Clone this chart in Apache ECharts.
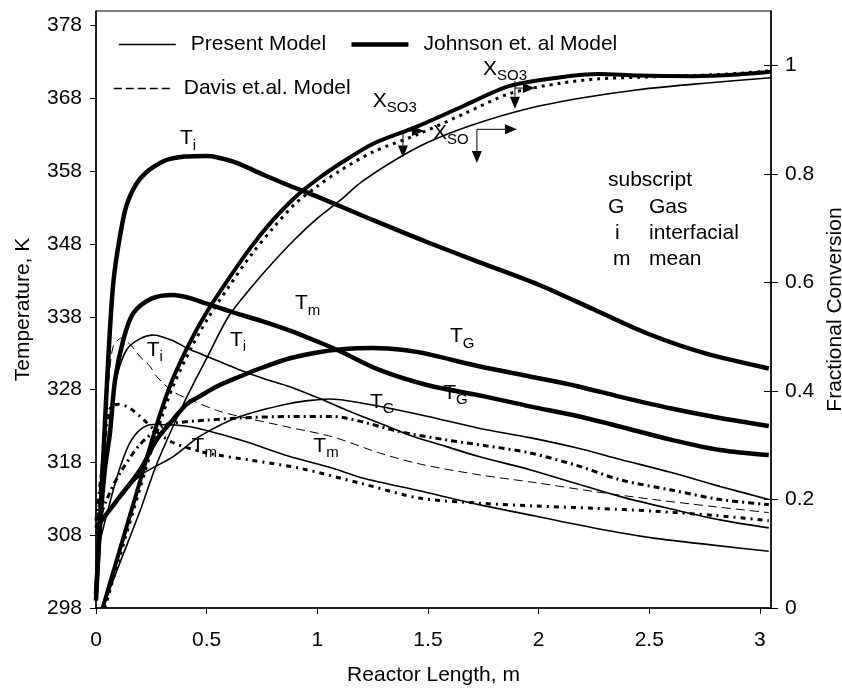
<!DOCTYPE html>
<html><head><meta charset="utf-8">
<script src="https://cdn.jsdelivr.net/npm/echarts@6/dist/echarts.min.js"></script>
<style>html,body{margin:0;padding:0;background:#fff}#c{width:842px;height:689px}</style>
</head><body><div id="c"></div>
<script>
// ---------- tick values ----------
const xTicks = [0, 0.5, 1, 1.5, 2, 2.5, 3];
const tempTicks = [298, 308, 318, 328, 338, 348, 358, 368, 378];
const convTicks = [0, 0.2, 0.4, 0.6, 0.8, 1];

// ---------- fractional conversion (right axis) ----------
const johnsonX = [[0.03,0],[0.1,0.097],[0.2,0.235],[0.25,0.305],[0.3,0.37],[0.35,0.425],[0.425,0.49],[0.5,0.545],[0.6,0.607],[0.7,0.665],[0.8,0.715],[0.9,0.757],[1.0,0.79],[1.1,0.818],[1.25,0.855],[1.45,0.887],[1.66,0.925],[1.87,0.962],[2.1,0.978],[2.27,0.984],[2.45,0.981],[2.7,0.98],[2.9,0.983],[3.05,0.988]];
const davisX = [[0.04,0],[0.1,0.085],[0.2,0.222],[0.25,0.29],[0.3,0.355],[0.35,0.41],[0.425,0.475],[0.5,0.53],[0.6,0.592],[0.7,0.65],[0.8,0.7],[0.9,0.745],[1.0,0.777],[1.1,0.805],[1.25,0.84],[1.45,0.872],[1.66,0.91],[1.87,0.948],[2.1,0.967],[2.27,0.975],[2.45,0.978],[2.7,0.981],[2.9,0.985],[3.05,0.99]];
const presentX = [[0.03,0],[0.1,0.075],[0.2,0.18],[0.274,0.265],[0.4,0.38],[0.5,0.46],[0.6,0.538],[0.7,0.59],[0.8,0.637],[0.9,0.68],[1.0,0.718],[1.1,0.75],[1.2,0.785],[1.35,0.825],[1.5,0.858],[1.7,0.89],[1.95,0.92],[2.2,0.94],[2.45,0.955],[2.75,0.967],[3.05,0.977]];

// ---------- temperatures (left axis) ----------
const johnsonTi = [[0,299],[0.015,308],[0.035,320],[0.055,332],[0.078,342.6],[0.108,349],[0.14,353.5],[0.2,357],[0.3,359.3],[0.4,360],[0.5,360.1],[0.62,359.3],[0.75,357.6],[0.875,356],[1.0,354.5],[1.25,351.3],[1.5,348.2],[1.75,345.3],[2.0,342.4],[2.25,339.0],[2.5,335.6],[2.75,333.0],[3.04,330.9]];
const johnsonTm = [[0,300],[0.02,310],[0.04,317],[0.063,322],[0.086,329.3],[0.123,334.8],[0.168,338.5],[0.25,340.5],[0.349,341],[0.42,340.6],[0.5,339.8],[0.62,338.6],[0.75,337.4],[0.876,336.1],[1.0,334.6],[1.1,333.3],[1.28,330.7],[1.5,328.6],[1.75,327.1],[1.96,325.7],[2.17,324.4],[2.37,322.9],[2.6,321.1],[2.82,319.7],[3.04,319.0]];
const johnsonTG = [[0,309],[0.1,313],[0.2,317],[0.274,321.1],[0.349,323.9],[0.41,326],[0.47,327.1],[0.55,328.5],[0.65,329.8],[0.75,331],[0.876,332.3],[1.0,333.1],[1.1,333.5],[1.25,333.7],[1.4,333.4],[1.51,332.8],[1.73,331.2],[1.96,329.8],[2.17,328.5],[2.37,327.0],[2.6,325.4],[2.82,324.1],[3.04,323.0]];
const presentTi = [[0,300],[0.02,310],[0.05,320],[0.078,326.1],[0.094,329.8],[0.139,333.5],[0.2,335],[0.259,335.5],[0.34,334.8],[0.425,333.5],[0.53,332.2],[0.65,330.7],[0.76,329.5],[0.876,328.4],[1.0,326.9],[1.13,325.2],[1.28,323.4],[1.43,321.6],[1.58,320.2],[1.73,318.8],[1.96,317],[2.17,315.1],[2.37,313.3],[2.6,311.6],[2.82,310.1],[3.04,309.0]];
const presentTG = [[0,309],[0.1,313],[0.2,316.2],[0.349,318.8],[0.47,321.6],[0.65,324.3],[0.876,326.1],[1.0,326.6],[1.06,326.7],[1.15,326.4],[1.28,325.7],[1.5,324.3],[1.73,322.7],[1.96,321.4],[2.17,320.0],[2.37,318.4],[2.6,316.6],[2.82,314.7],[3.04,312.9]];
const presentTm = [[0,305],[0.05,311],[0.1,316.5],[0.15,320.5],[0.2,322.5],[0.259,323.2],[0.425,322.9],[0.65,321.1],[0.876,318.8],[1.07,317.2],[1.2,315.9],[1.46,314.1],[1.73,312.2],[1.99,310.6],[2.25,309],[2.52,307.6],[2.8,306.6],[3.04,305.8]];
const davisTi = [[0,308],[0.03,320],[0.06,330],[0.078,333.9],[0.116,335.1],[0.16,334],[0.2,332.5],[0.244,331.2],[0.274,329.8],[0.35,327.7],[0.45,326.3],[0.55,325.1],[0.65,324.3],[0.876,322.8],[1.07,321.5],[1.28,319.3],[1.46,317.8],[1.73,316.3],[1.99,315.2],[2.25,314.0],[2.52,312.9],[2.8,311.9],[3.04,311.1]];
const davisTG = [[0,309],[0.05,313],[0.108,316.5],[0.2,320.5],[0.3,323],[0.35,323.4],[0.5,323.8],[0.65,324.1],[0.876,324.3],[1.07,324.3],[1.2,323.6],[1.36,322.3],[1.58,321.1],[1.76,320.3],[1.96,319.3],[2.17,317.6],[2.37,315.6],[2.6,314.2],[2.82,312.9],[3.04,312.2]];
const davisTm = [[0,310],[0.03,318],[0.063,325.3],[0.1,326],[0.15,325.5],[0.2,324.3],[0.27,322.3],[0.349,320.7],[0.5,319.3],[0.7,318.3],[0.92,317.2],[1.2,315.1],[1.46,313.1],[1.73,312.4],[1.99,312.0],[2.25,311.7],[2.52,311.3],[2.8,310.7],[3.04,310.0]];

// ---------- annotations (data coords: x, temperature) ----------
const curveLabels = [
  ['T','i',0.379,362.3],
  ['T','m',0.899,339.6],
  ['T','i',0.605,334.6],
  ['T','i',0.229,333.2],
  ['T','G',1.599,335.1],
  ['T','G',1.569,327.3],
  ['T','G',1.238,326.1],
  ['T','m',0.982,320.0],
  ['T','m',0.432,320.0],
  ['X','SO3',1.251,367.4],
  ['X','SO3',1.749,371.8],
  ['X','SO',1.523,363.05]
];
// arrow segments (data coords: x, conversion) [from, tip]
const arrowSegs = [
  [[1.387,0.879],[1.387,0.830]],
  [[1.387,0.879],[1.482,0.879]],
  [[1.893,0.971],[1.893,0.920]],
  [[1.893,0.958],[1.983,0.958]],
  [[1.721,0.882],[1.721,0.820]],
  [[1.721,0.882],[1.902,0.882]]
];
const subscriptKey = [['subscript',''],['G','Gas'],['i','interfacial'],['m','mean']];

const FF = '"Liberation Sans", Arial, sans-serif';
const chart = echarts.init(document.getElementById('c'), null, {renderer:'canvas'});

function ln(name, data, yAxisIndex, width, type) {
  return {type:'line', name, data, yAxisIndex, smooth:0.3, symbol:'none', showSymbol:false,
    lineStyle:{color:'#000', width, type}, itemStyle:{color:'#000'}, animation:false, silent:true};
}

const series = [
  ln('Present Model', presentX, 1, 1.6, 'solid'),
  ln('Johnson et. al Model', johnsonX, 1, 4, 'solid'),
  ln('Davis et.al. Model', davisX, 1, 3, [3,5]),
  ln('Present Model', presentTi, 0, 1.6, 'solid'),
  ln('Present Model', presentTG, 0, 1.6, 'solid'),
  ln('Present Model', presentTm, 0, 1.6, 'solid'),
  ln('Johnson et. al Model', johnsonTi, 0, 4.5, 'solid'),
  ln('Johnson et. al Model', johnsonTm, 0, 4.5, 'solid'),
  ln('Johnson et. al Model', johnsonTG, 0, 4.5, 'solid'),
  ln('Davis et.al. Model', davisTi, 0, 1, [9,5]),
  ln('Davis et.al. Model', davisTG, 0, 3, [6,4,2,4]),
  ln('Davis et.al. Model', davisTm, 0, 3, [5,5,2,5])
];

const axisText = {fontSize:21, color:'#000', fontFamily:FF};
const hiddenMark = {opacity:0, borderWidth:0};
const noMinor = {show:false};

chart.setOption({
  animation:false,
  backgroundColor:'#fff',
  grid:{left:96, right:71, top:11, bottom:81, show:true, borderColor:'#000', borderWidth:1,
        containLabel:false, outerBoundsMode:'none'},
  legend:[
    {data:[{name:'Present Model', itemStyle:hiddenMark, lineStyle:{width:1.6, type:'solid', color:'#000'}},
           {name:'Johnson et. al Model', itemStyle:hiddenMark, lineStyle:{width:4.5, type:'solid', color:'#000'}}],
     left:118, top:34, padding:0, itemWidth:57, itemHeight:14, itemGap:23, selectedMode:false,
     textStyle:{fontSize:21, color:'#000', fontFamily:FF, padding:[0,0,0,10]}},
    {data:[{name:'Davis et.al. Model', itemStyle:hiddenMark, lineStyle:{width:1.5, type:[8,4], color:'#000'}}],
     left:113, top:78, padding:0, itemWidth:57, itemHeight:14, selectedMode:false,
     textStyle:{fontSize:21, color:'#000', fontFamily:FF, padding:[0,0,0,8]}}
  ],
  xAxis:{type:'value', min:0, max:3.05, interval:0.5,
    name:'Reactor Length, m', nameLocation:'middle', nameGap:57, nameTextStyle:axisText,
    axisLine:{show:true, onZero:false, lineStyle:{color:'#000', width:1.5}},
    axisTick:{show:true, length:6, customValues:xTicks, lineStyle:{color:'#000', width:1}},
    minorTick:noMinor, minorSplitLine:noMinor,
    axisLabel:{customValues:xTicks, margin:22, ...axisText},
    splitLine:{show:false}},
  yAxis:[
    {type:'value', position:'left', min:298, max:380, interval:10,
     name:'Temperature, K', nameLocation:'middle', nameGap:62, nameRotate:90, nameTextStyle:axisText,
     axisLine:{show:true, onZero:false, lineStyle:{color:'#000', width:1.5}},
     axisTick:{show:true, length:6, customValues:tempTicks, lineStyle:{color:'#000'}},
     minorTick:noMinor, minorSplitLine:noMinor,
     axisLabel:{customValues:tempTicks, margin:14, ...axisText},
     splitLine:{show:false}},
    {type:'value', position:'right', min:0, max:1.1, interval:0.2,
     name:'Fractional Conversion', nameLocation:'middle', nameGap:45, nameRotate:90, nameTextStyle:axisText,
     axisLine:{show:true, onZero:false, lineStyle:{color:'#000', width:1.5}},
     axisTick:{show:true, length:7, customValues:convTicks, lineStyle:{color:'#000'}},
     minorTick:noMinor, minorSplitLine:noMinor,
     axisLabel:{customValues:convTicks, margin:14, ...axisText},
     splitLine:{show:false}}
  ],
  series
});

// ---------- annotation texts, arrows, inner half of right-axis ticks ----------
const graphics = [];
curveLabels.forEach(l => {
  const p = chart.convertToPixel({gridIndex:0}, [l[2], l[3]]);
  graphics.push({type:'text', x:p[0], y:p[1] - 12, z:100, silent:true,
    style:{text:'{a|' + l[0] + '}{b|' + l[1] + '}', textAlign:'left', textVerticalAlign:'top', fill:'#000',
      rich:{a:{fontSize:21, lineHeight:24, verticalAlign:'top', fontFamily:FF, fill:'#000'},
            b:{fontSize:15, lineHeight:15, padding:[10,0,0,0], verticalAlign:'top', fontFamily:FF, fill:'#000'}}}});
});
arrowSegs.forEach(s => {
  const a = chart.convertToPixel({xAxisIndex:0, yAxisIndex:1}, s[0]);
  const b = chart.convertToPixel({xAxisIndex:0, yAxisIndex:1}, s[1]);
  const dx = b[0] - a[0], dy = b[1] - a[1], L = Math.hypot(dx, dy) || 1;
  const ux = dx / L, uy = dy / L, hl = 12, hw = 5;
  const bx = b[0] - ux * hl, by = b[1] - uy * hl;
  graphics.push({type:'line', z:100, silent:true, shape:{x1:a[0], y1:a[1], x2:bx, y2:by},
    style:{stroke:'#000', lineWidth:1}});
  graphics.push({type:'polygon', z:100, silent:true,
    shape:{points:[[b[0], b[1]], [bx - uy * hw, by + ux * hw], [bx + uy * hw, by - ux * hw]]},
    style:{fill:'#000'}});
});
convTicks.forEach(v => {
  const p = chart.convertToPixel({xAxisIndex:0, yAxisIndex:1}, [3.05, v]);
  const yy = Math.round(p[1]) + 0.5;
  graphics.push({type:'line', z:100, silent:true, shape:{x1:p[0] - 7, y1:yy, x2:p[0], y2:yy},
    style:{stroke:'#000', lineWidth:1}});
});
const keyRows = [180, 207, 233, 259];
const keyLeft = [608, 608, 615, 613];
subscriptKey.forEach((r, i) => {
  graphics.push({type:'text', x:keyLeft[i], y:keyRows[i], z:100, silent:true,
    style:{text:r[0], fontSize:21, fontFamily:FF, fill:'#000', textAlign:'left', textVerticalAlign:'middle'}});
  if (r[1]) graphics.push({type:'text', x:649, y:keyRows[i], z:100, silent:true,
    style:{text:r[1], fontSize:21, fontFamily:FF, fill:'#000', textAlign:'left', textVerticalAlign:'middle'}});
});
chart.setOption({graphic: graphics});
</script>
</body></html>
